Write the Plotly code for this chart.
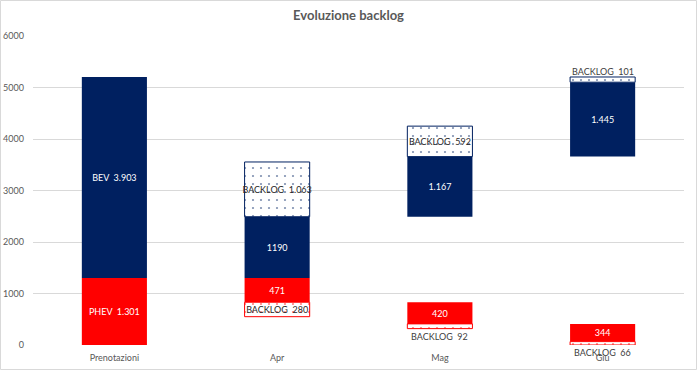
import plotly.graph_objects as go

categories = ["Prenotazioni", "Apr", "Mag", "Giu"]
phev = [1301, 471, 420, 344]
bev = [3903, 1190, 1167, 1445]
backlog_phev = [0, 280, 92, 66]
backlog_bev = [0, 1063, 592, 101]

phev_labels = ["PHEV  1.301", "471", "420", "344"]
bev_labels = ["BEV  3.903", "1190", "1.167", "1.445"]
backlog_phev_labels = ["", "BACKLOG  280", "BACKLOG  92", "BACKLOG  66"]
backlog_bev_labels = ["", "BACKLOG  1.063", "BACKLOG  592", "BACKLOG  101"]
y_ticks = [0, 1000, 2000, 3000, 4000, 5000, 6000]

RED = "#FF0000"
NAVY = "#002060"
FONT = "Lato"

# waterfall bases
phev_base = [0]
top = phev[0]
for v in phev[1:]:
    phev_base.append(top - v)
    top -= v
bev_base = [phev[0]]
cur = phev[0]
for v in bev[1:]:
    bev_base.append(cur)
    cur += v

n = len(categories)
bl_phev_base = [phev_base[i] - backlog_phev[i] for i in range(n)]
bl_bev_base = [bev_base[i] + bev[i] for i in range(n)]

fig = go.Figure()
fig.add_trace(go.Bar(x=categories, y=phev, base=phev_base, width=0.4,
                     marker=dict(color=RED, line=dict(width=0)),
                     text=phev_labels, textposition="inside", insidetextanchor="middle",
                     textangle=0, textfont=dict(color="white", size=9, family=FONT),
                     constraintext="none", hoverinfo="skip"))
fig.add_trace(go.Bar(x=categories, y=bev, base=bev_base, width=0.4,
                     marker=dict(color=NAVY, line=dict(width=0)),
                     text=bev_labels, textposition="inside", insidetextanchor="middle",
                     textangle=0, textfont=dict(color="white", size=9, family=FONT),
                     constraintext="none", hoverinfo="skip"))

inside_phev = [backlog_phev_labels[i] if backlog_phev[i] >= 200 else "" for i in range(n)]
inside_bev = [backlog_bev_labels[i] if backlog_bev[i] >= 200 else "" for i in range(n)]

fig.add_trace(go.Bar(x=categories[1:], y=backlog_phev[1:], base=bl_phev_base[1:], width=0.4,
                     marker=dict(color="white", line=dict(color=RED, width=1),
                                 pattern=dict(shape=".", fgcolor=RED, bgcolor="white",
                                              size=8, solidity=0.06)),
                     text=inside_phev[1:], textposition="inside", insidetextanchor="middle",
                     textangle=0, textfont=dict(color="#262626", size=9, family=FONT),
                     constraintext="none", hoverinfo="skip"))
fig.add_trace(go.Bar(x=categories[1:], y=backlog_bev[1:], base=bl_bev_base[1:], width=0.4,
                     marker=dict(color="white", line=dict(color=NAVY, width=1),
                                 pattern=dict(shape=".", fgcolor=NAVY, bgcolor="white",
                                              size=8, solidity=0.06)),
                     text=inside_bev[1:], textposition="inside", insidetextanchor="middle",
                     textangle=0, textfont=dict(color="#262626", size=9, family=FONT),
                     constraintext="none", hoverinfo="skip"))

annotations = []
for i in range(1, n):
    if backlog_phev[i] < 200:
        annotations.append(dict(x=categories[i], y=bl_phev_base[i], text=backlog_phev_labels[i],
                                showarrow=False, yanchor="top", yshift=0,
                                font=dict(color="#404040", size=9, family=FONT)))
    if backlog_bev[i] < 200:
        annotations.append(dict(x=categories[i], y=bl_bev_base[i] + backlog_bev[i],
                                text=backlog_bev_labels[i], showarrow=False, yanchor="bottom",
                                yshift=-2, font=dict(color="#404040", size=9, family=FONT)))

fig.update_layout(
    width=697, height=370,
    margin=dict(l=33, r=13, t=36, b=25, autoexpand=False),
    paper_bgcolor="white", plot_bgcolor="white",
    barmode="overlay", showlegend=False,
    title=dict(text="<b>Evoluzione backlog</b>", x=0.5, xanchor="center", y=0.957, yanchor="middle",
               font=dict(size=13, color="#595959", family=FONT)),
    font=dict(family=FONT, size=9, color="#595959"),
    annotations=annotations,
    shapes=[dict(type="rect", xref="paper", yref="paper",
                 x0=-32.5 / 651, x1=1 + 12.5 / 651, y0=-24.5 / 309, y1=1 + 35.5 / 309,
                 line=dict(color="#D9D9D9", width=1), fillcolor="rgba(0,0,0,0)", layer="below")],
)
fig.update_xaxes(showgrid=False, showline=False, ticks="", tickfont=dict(size=9, color="#595959"),
                 ticklabelstandoff=6, automargin=False)
fig.update_yaxes(range=[0, 6000], tickvals=y_ticks, ticktext=[str(t) for t in y_ticks],
                 showgrid=True, gridcolor="#D9D9D9", gridwidth=1, zeroline=False,
                 showline=False, ticks="", tickfont=dict(size=9, color="#595959"),
                 ticklabelstandoff=8, automargin=False)

fig.write_html("out.html", config={"displayModeBar": False, "staticPlot": True},
               post_script="document.body.style.margin='0';document.body.style.overflow='hidden';")
